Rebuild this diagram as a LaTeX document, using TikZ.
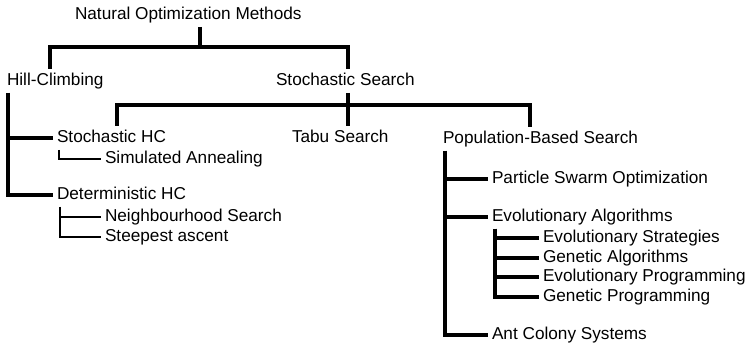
\documentclass[tikz,border=0pt]{standalone}
\usepackage{fontspec}
\setmainfont{Liberation Sans}

\tikzset{
  % one method name, placed by its baseline
  method/.style = {anchor=base west, inner sep=0pt, outer xsep=4pt, outer ysep=4pt,
    text height=13pt, text depth=3pt, font=\fontsize{17.2}{20}\selectfont},
  % tree lines
  branch/.style = {line width=3.2pt},
  twig/.style = {line width=2.6pt},
}

\begin{document}
\begin{tikzpicture}[x=1pt, y=-1pt]
  \useasboundingbox (0,0) rectangle (750,347);

  \node[method] (nom) at (71,20) {Natural Optimization Methods};
  \node[method] (hc) at (3,86) {Hill-Climbing};
  \node[method] (ss) at (272,86) {Stochastic Search};

  \node[method] (shc) at (53,143) {Stochastic HC};
  \node[method] (sa) at (101,164) {Simulated Annealing};
  \node[method] (dhc) at (53,200) {Deterministic HC};
  \node[method] (nbs) at (101,222) {Neighbourhood Search};
  \node[method] (sta) at (101,242) {Steepest ascent};

  \node[method] (tabu) at (288,143) {Tabu Search};
  \node[method] (pbs) at (439,144) {Population-Based Search};
  \node[method] (pso) at (488,184) {Particle Swarm Optimization};
  \node[method] (ea) at (488,222) {Evolutionary Algorithms};
  \node[method] (es) at (539,243) {Evolutionary Strategies};
  \node[method] (ga) at (539,263) {Genetic Algorithms};
  \node[method] (ep) at (539,282) {Evolutionary Programming};
  \node[method] (gp) at (539,302) {Genetic Programming};
  \node[method] (acs) at (488,340) {Ant Colony Systems};

  % bars
  \coordinate (tl) at (50,47);
  \coordinate (tr) at (348,47);
  \coordinate (sl) at (117,105);
  \coordinate (sr) at (530,105);

  \draw[branch] (nom.south -| 200,0) -- (200,47);
  \draw[branch] (tl |- hc.north) -- (tl) -- (tr) -- (tr |- ss.north);
  \draw[branch] (tr |- ss.south) -- (tr |- tabu.north);
  \draw[branch] (sl |- shc.north) -- (sl) -- (sr) -- (sr |- pbs.north);

  % hill-climbing
  \draw[branch] ([xshift=5pt]hc.south west) |- (shc.west);
  \draw[branch] ([xshift=5pt]hc.south west) |- (dhc.west);
  \draw[twig] ([xshift=6pt]shc.south west) |- (sa.west);
  \draw[twig] ([xshift=7pt]dhc.south west) |- (nbs.west);
  \draw[twig] ([xshift=7pt]dhc.south west) |- (sta.west);

  % population-based search
  \foreach \m in {pso,ea,acs}
    \draw[branch] ([xshift=6pt]pbs.south west) |- (\m.west);
  \foreach \m in {es,ga,ep,gp}
    \draw[branch] ([xshift=7pt]ea.south west) |- (\m.west);
\end{tikzpicture}
\end{document}
